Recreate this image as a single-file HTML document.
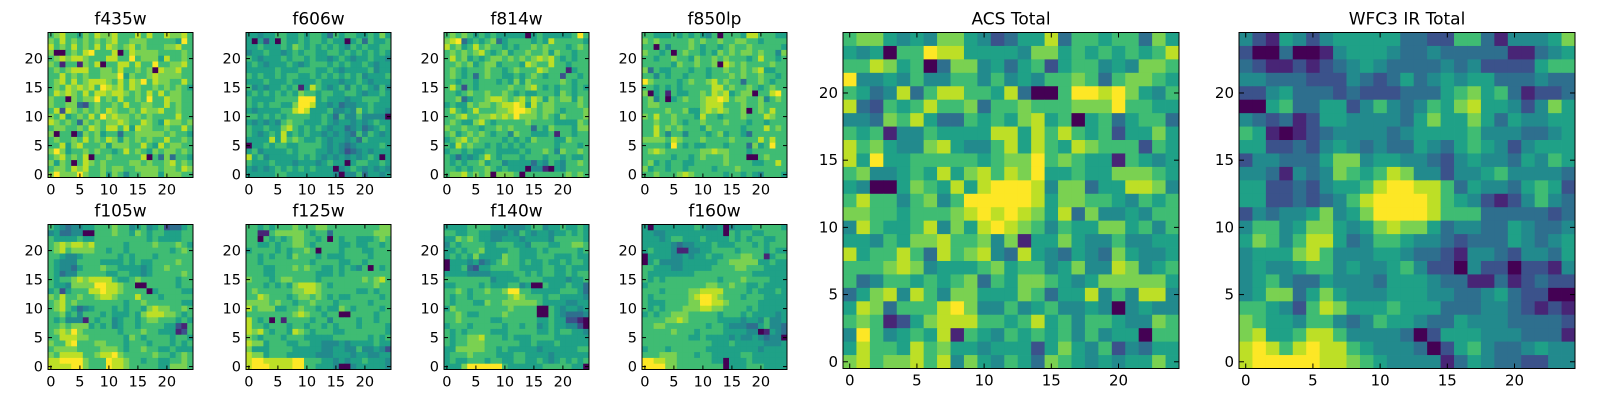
<!DOCTYPE html>
<html><head><meta charset="utf-8">
<style>
html,body{margin:0;padding:0;background:#fff;}
svg{display:block;font-family:"DejaVu Sans","Liberation Sans",sans-serif;}
</style></head>
<body>
<svg id="fig" width="1600" height="400" viewBox="0 0 1600 400" xmlns="http://www.w3.org/2000/svg"></svg>
<script>
// Per-panel intensity levels (0-9), rows listed top (y=24) to bottom (y=0)
const f435w = ["6786657687786668686687786","7686767676786677766666596","8676867686876786766677866","7006768966680687777666676","6787887666886696777586676","7616617680668868669667786","6767888667768667670877866","6686767667779576678777766","6786867888768687968776686","6768787869878687667676765","6878768688788767686867766","7660767796768667696687766","7667732676676866776686766","6828767676876676877866766","7685676869787767676666866","8767637676778766876587767","6776676876886858776676686","7066047675663667777767665","6766768676875767676686676","6685786667577766865867766","7975667676656867657677676","6786768066766666806373665","7576068767666677676678676","6776878667677667777677687","7977797667576466777577766"];
const f606w = ["5545566556566536566556575","5052506556566565505636556","5565556576565656546565566","4556554565665566565656565","6545556566565545654556554","5654555654566656565565455","5555565556665565455556455","6565565665565656565645556","5556555655556555455654555","6454556561586545646565464","5656565657665665566545565","6555566669995655545566655","6565665579985545344556555","5455556689855564454756554","6656565666655653644644440","5454546766555654554545655","6556557865656545534534565","6545658565655454543646545","5555858676556545545365555","0556566556666545434555565","5645555656665545423454555","8564555556565454545456505","6555655545554565505665565","5454565656565550456545454","5555566555555554044635545"];
const f814w = ["6767656565555505655555696","7893565673566665658666665","8675686766565667676665676","6767678656756676675766566","6867565677676767878656566","6676756775666587668665666","6765666766567666876661566","6765636766556567656626656","6656656665657576666676566","6862656666676678656566565","6656766766765655666576566","6673566788767868757677576","5655767767889858677666676","6865686667789987677656667","6678667787879777676576667","6765578656666676666555576","7667665667676663657666577","6756767656647665556166566","5678676666565657666557666","6586766565656566666566656","5665655665555656676476676","6535456865666566656656556","6565667566455553546546676","6656566765655504410546666","6778676707776066666667676"];
const f850lp = ["6655565656546066658866655","7676666676766766776656666","6606466676566567667666665","7665606766565767677676647","6656676657667676665686656","6666657667667087676666766","7365566656656676676785566","6646566566656667676676656","9766665676678676636676566","6656565666668867667656766","7056165566768785677066896","6746056766788986776674676","6776666666788866676676666","6666766755787876670676866","7686676665866566676668766","6676676566766676665665666","6686767666576666656668676","6686466466656756653666666","7777687666766667666686866","6666596565566656663756966","6787666666778776665666666","6666656656766676660067666","6756566556666676666556686","7566566566665666766666666","6676667876666656656546665"];
const f105w = ["6543445566676645645623356","4533440066676657656655566","6555565566666666656555566","6787887866666566667666765","6786777766566566666665676","6654456666665656665666666","6544466665555656556666766","6544356667665555456676666","6534466666556655456666676","6566787888865567666666566","6554777799887660066666566","5625666889887666605666655","7686676678876668666566666","6786766666666566766666655","6786534566656566578776676","6675646665655565788877656","6564441656645665677666565","6676777565645665666655216","6787976666665666766555126","6688877666666576566665665","7668966677666566656665656","6777766667776566766556555","7688886678897666667665676","8899997666988766566556676","8888997666988766666557776"];
const f125w = ["6656566676667766666666677","6611677777656636666666777","6606565677665606566555676","6655656677656666556556656","5666656566760666566655666","6656566576665655566665666","6656666666656666556656666","6665566676766556565460656","6665566666665556566666666","7666567766665666666676786","6665656578887656666666766","6766666677887666666556566","6687666567767656556666656","7777676656676665666665666","8677755667665655765666656","6666666678766566006666566","8656061666656646666566566","8665666566566565666566665","8786566587656665566666665","7656665666555556666665656","8775666556655444545555655","7555666655555445544644542","8775666555554445554554455","8998888899666554545565554","8999888899665554004555554"];
const f140w = ["5555666655544456645565565","6655665544454654554556565","5576765544555455554666665","4656666556665546665566776","5565667555566555656666656","5656575555766555666555655","0555453456766565565565665","0556325566666555566556555","5555444455556656566556566","6666666645555666655554556","5566665655566450065556553","6676566766799665555566653","6566566666678766656655554","6566655766777777655554455","5766666666676666006545545","6676556666766666006543334","6676666655666666556552210","5666566666566566456554420","6565666655566666556566554","6566778666565556666555555","6566777666666556555655555","5577777665655555455555566","5666766665556655554555555","5655666566556655654565656","5557999999655555566666550"];
const f160w = ["5055555556544504555666665","5544555555555506566556666","5554566555655556565665566","5555543445556555666565666","5655541144556666566665655","0555544545565566677661566","0564444555555667777755655","6655544555556666776665555","6555555556666666666555555","6565666666666566676666555","5666666666677667665565555","6665666677888866665655565","6566666678998766656665555","6555666677998876666655555","6565666777887766665655555","5656677766666566656555545","6666778766666555545546445","6677666666656654443356443","6666676665666655554401543","6666666655655554544543440","6666666666665556555554445","5666566666655555555545555","6667776665665555566555555","9988776666665505556555555","9999776666666605556665555"];
const acsTotal = ["6775454775423558366566375","5450669885555477565656568","6687560377453562566454776","9445464466464546676367765","6534836886658300699897546","8326568667366766677796655","4437685336565785605635663","6561446555588586865625575","8675447854468586587666265","8595566666567796765516545","6744565857868795565577765","5400576585899984773558874","6866467469999985776654656","7766566678989875837445466","4865568475898764655775646","5546577866747155754464455","8566863867843854354375445","6667874555675664574487456","6346656567365776545777775","3578486477555763558464884","5873666897446456445404544","6761257888665685646654476","4964565816546565646455066","5866586755455525754624355","7867786847546537654545575"];
const wfc3Total = ["4215424555553322663144457","2003001455543343333311345","3211212345433334342222566","4433322243235345455333433","2245333232223335675631223","0056335524643465785542475","4323125544443575575354455","6510123444434555564443345","5522324543433543565424555","2443335774554432454435465","4431434765687442445644443","5522324556899886354435652","5522323468999986542124643","2434457457999986663333323","4664577545787753443354334","5764688534665443233354345","4555786444554332144324435","4544566454456422042202214","4564335444355543311312322","4577357544455544334532200","6654268755565553334432121","7655466434655433544433332","7855688644443025554443331","8986898865444302564334544","8999998876544441354332244"];

const panels = [
  {name:"f435w", d:f435w, x:48, y:32.5, s:145, big:false},
  {name:"f606w", d:f606w, x:246, y:32.5, s:145, big:false},
  {name:"f814w", d:f814w, x:444, y:32.5, s:145, big:false},
  {name:"f850lp", d:f850lp, x:642, y:32.5, s:145, big:false},
  {name:"f105w", d:f105w, x:48, y:224.5, s:145, big:false},
  {name:"f125w", d:f125w, x:246, y:224.5, s:145, big:false},
  {name:"f140w", d:f140w, x:444, y:224.5, s:145, big:false},
  {name:"f160w", d:f160w, x:642, y:224.5, s:145, big:false},
  {name:"ACS Total", d:acsTotal, x:843, y:32.5, s:336, big:true},
  {name:"WFC3 IR Total", d:wfc3Total, x:1239, y:32.5, s:336, big:true}
];
const tickVals = [0,5,10,15,20];
const viridis = ["#440154","#482576","#3b528b","#2e6f8e","#228a8d","#1fa187","#3fbc73","#7ad151","#bddf26","#fde725"];
const NS = "http://www.w3.org/2000/svg";
const fig = document.getElementById("fig");
function mk(tag, attrs, parent){const e=document.createElementNS(NS,tag);for(const k in attrs)e.setAttribute(k,attrs[k]);parent.appendChild(e);return e;}
function slug(s){return s.toLowerCase().replace(/\s+/g,'-');}

panels.forEach(p=>{
  const n = 25, c = p.s/n;
  const g = mk("g",{},fig);
  
  
  const xs = i => p.x + (i+0.5)*c;
  const ys = j => p.y + p.s - (j+0.5)*c;
  const cells = mk("g",{},g);
  
  
  p.d.forEach((row, r)=>{
    const j = n-1-r;
    for(let i=0;i<n;i++){
      const v = +row[i];
      const rc = mk("rect",{x:(xs(i)-c/2).toFixed(2), y:(ys(j)-c/2).toFixed(2), width:(c+0.4).toFixed(2), height:(c+0.4).toFixed(2), fill:viridis[v]},cells);
      
      
    }
  });
  const fr = mk("rect",{x:p.x,y:p.y,width:p.s,height:p.s,fill:"none",stroke:"#000","stroke-width":1},g);
  
  
  const fs = p.big ? 15 : 14.5;
  const tl = p.big ? 5 : 4;
  tickVals.forEach(t=>{
    const tx = xs(t), ty = ys(t);
    mk("line",{x1:tx,y1:p.y+p.s,x2:tx,y2:p.y+p.s-tl,stroke:"#000"},g);
    mk("line",{x1:tx,y1:p.y,x2:tx,y2:p.y+tl,stroke:"#000"},g);
    mk("line",{x1:p.x,y1:ty,x2:p.x+tl,y2:ty,stroke:"#000"},g);
    mk("line",{x1:p.x+p.s,y1:ty,x2:p.x+p.s-tl,y2:ty,stroke:"#000"},g);
    const lx = mk("text",{x:tx,y:p.y+p.s+17,"text-anchor":"middle","font-size":fs,fill:"#000"},g);
    lx.textContent = t;
    
    
    const ly = mk("text",{x:p.x-5,y:ty+5,"text-anchor":"end","font-size":fs,fill:"#000"},g);
    ly.textContent = t;
    
    
  });
  const ti = mk("text",{x:p.x+p.s/2,y:p.y-8,"text-anchor":"middle","font-size":17,fill:"#000"},g);
  ti.textContent = p.name;
  
  
});
</script>
</body></html>
